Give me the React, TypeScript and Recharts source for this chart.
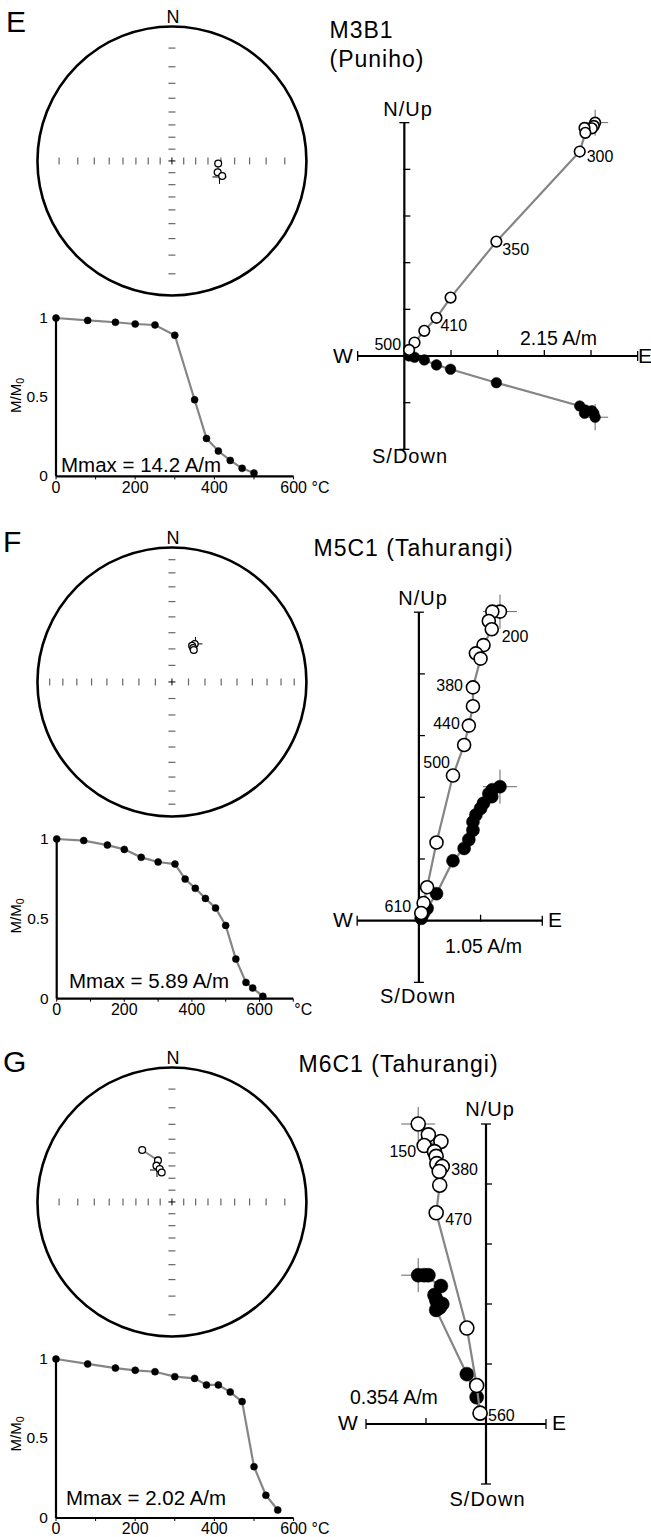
import React from 'react';
import { ScatterChart, Scatter, XAxis, YAxis, ReferenceDot, ReferenceLine, LineChart, Line } from 'recharts';

const FONT = '"Liberation Sans", Arial, Helvetica, sans-serif';
const GRAY = '#858585';

// ---------------- stereonet data (declination, inclination; open = upper hemisphere) ----------------
const stereoTickIncs = [10, 20, 30, 40, 50, 60, 70, 80];

const eStereoDec = [93.2, 103.9, 106.6];
const eStereoInc = [-52.0, -51.4, -47.4];
const eStereoMean = [108.6, -49.1];

const fStereoDec = [31.0, 29.1, 32.0, 34.3];
const fStereoInc = [-63.1, -64.8, -65.7, -66.5];
const fStereoMean = [31.7, -62.8];

const gStereoDec = [330.2, 341.4, 336.9, 339.6, 340.8];
const gStereoInc = [-42.0, -53.9, -57.3, -60.7, -63.9];
const gStereoMean = [334.9, -60.6];

// ---------------- demagnetisation (temperature °C, M/M0) ----------------
const eTemps = [0, 80, 150, 200, 250, 300, 350, 380, 410, 440, 470, 500];
const eMM0 = [1, 0.985, 0.973, 0.962, 0.956, 0.891, 0.484, 0.24, 0.16, 0.101, 0.051, 0.021];

const fTemps = [0, 80, 150, 200, 250, 300, 350, 380, 410, 440, 470, 500, 530, 560, 580, 610];
const fMM0 = [1, 0.99, 0.962, 0.935, 0.885, 0.856, 0.843, 0.749, 0.691, 0.628, 0.568, 0.459, 0.248, 0.102, 0.067, 0.015];

const gTemps = [0, 80, 150, 200, 250, 300, 350, 380, 410, 440, 470, 500, 530, 560];
const gMM0 = [1, 0.969, 0.943, 0.929, 0.92, 0.889, 0.878, 0.837, 0.837, 0.792, 0.732, 0.323, 0.143, 0.05];

// ---------------- Zijderveld components (A/m) ----------------
const eEast = [8.79, 8.73, 8.64, 8.3, 8.34, 8.08, 4.24, 2.13, 1.48, 0.92, 0.47, 0.22];
const eNorth = [-2.82, -2.64, -2.52, -2.64, -2.49, -2.3, -1.23, -0.61, -0.41, -0.18, -0.06, 0.0];
const eUp = [10.75, 10.6, 10.49, 10.51, 10.28, 9.42, 5.27, 2.69, 1.76, 1.16, 0.62, 0.28];

const fEast = [1.38, 1.25, 1.19, 1.24, 1.1, 0.97, 1.05, 0.92, 0.92, 0.85, 0.77, 0.58, 0.3, 0.14, 0.08, 0.04];
const fNorth = [2.28, 2.23, 2.16, 2.11, 2.0, 1.8, 1.91, 1.68, 1.54, 1.38, 1.23, 1.02, 0.46, 0.21, 0.13, 0.04];
const fUp = [5.26, 5.26, 5.1, 4.96, 4.69, 4.55, 4.46, 3.97, 3.65, 3.32, 2.99, 2.47, 1.33, 0.57, 0.3, 0.13];

const gEast = [-0.4, -0.34, -0.365, -0.266, -0.304, -0.294, -0.29, -0.258, -0.276, -0.273, -0.294, -0.113, -0.055, -0.035];
const gNorth = [0.878, 0.878, 0.878, 0.814, 0.761, 0.736, 0.722, 0.708, 0.697, 0.687, 0.673, 0.294, 0.158, 0.064];
const gUp = [1.77, 1.706, 1.643, 1.667, 1.607, 1.579, 1.536, 1.519, 1.49, 1.409, 1.246, 0.566, 0.227, 0.064];

// Zijderveld tick units (A/m per division) and axis tick indices
const eUnit = 2.15;
const fUnit = 1.05;
const gUnit = 0.354;
const eHTicks = [-1, 1, 2, 3, 4, 5];
const eVTicks = [-2, -1, 1, 2, 3, 4, 5];
const fHTicks = [-1, 1, 2];
const fVTicks = [-1, 1, 2, 3, 4, 5];
const gHTicks = [-2, -1, 1];
const gVTicks = [-1, 1, 2, 3, 4, 5];

// label placement (style only): temperature -> [dx, dy(center), anchor]
const eLabelPos: Record<number, [number, number, string]> = {
  300: [7, 5, 'start'], 350: [6, 8, 'start'], 410: [4, 7, 'start'], 500: [-8, -5.5, 'end'],
};
const fLabelPos: Record<number, [number, number, string]> = {
  200: [10, 7, 'start'], 380: [-10, -2.5, 'end'], 440: [-9, -2, 'end'], 500: [-3, -13, 'end'], 610: [-10, -7, 'end'],
};
const gLabelPos: Record<number, [number, number, string]> = {
  150: [-8, 6, 'end'], 380: [9, 3, 'start'], 470: [9, 6, 'start'], 560: [8, 2, 'start'],
};

// ---------------- helpers ----------------
type Proj = 'angle' | 'area';
const RAD = Math.PI / 180;
const projR = (inc: number, p: Proj) => {
  const h = ((90 - Math.abs(inc)) * RAD) / 2;
  return p === 'angle' ? Math.tan(h) : Math.SQRT2 * Math.sin(h);
};
const dirXY = (dec: number, inc: number, p: Proj) => {
  const r = projR(inc, p);
  return { x: r * Math.sin(dec * RAD), y: r * Math.cos(dec * RAD) };
};

const StereoTick = (props: any) => {
  const { cx, cy, payload } = props;
  if (payload.dir === 'ns')
    return <line x1={cx - 3.5} x2={cx + 3.5} y1={cy} y2={cy} stroke="#666" strokeWidth={1.2} />;
  return <line x1={cx} x2={cx} y1={cy - 3.5} y2={cy + 3.5} stroke="#666" strokeWidth={1.2} />;
};
const CenterPlus = (props: any) => {
  const { cx, cy } = props;
  return (
    <g stroke="#000" strokeWidth={1}>
      <line x1={cx - 3.5} x2={cx + 3.5} y1={cy} y2={cy} />
      <line x1={cx} x2={cx} y1={cy - 3.5} y2={cy + 3.5} />
    </g>
  );
};
const makeCross = (a: number, color: string) => (props: any) => {
  const { cx, cy } = props;
  return (
    <g stroke={color} strokeWidth={1}>
      <line x1={cx - a} x2={cx + a} y1={cy} y2={cy} />
      <line x1={cx} x2={cx} y1={cy - a} y2={cy + a} />
    </g>
  );
};
const makeOpen = (r: number, sw: number, labels?: Record<number, [number, number, string]>) => (props: any) => {
  const { cx, cy, payload } = props;
  const lab = labels && payload && payload.t !== undefined ? labels[payload.t] : undefined;
  return (
    <g>
      <circle cx={cx} cy={cy} r={r} fill="#fff" stroke="#000" strokeWidth={sw} />
      {lab && (
        <text x={cx + lab[0]} y={cy + lab[1] + 5.8} textAnchor={lab[2] as any} fontSize={16} fill="#000" fontFamily={FONT}>
          {payload.t}
        </text>
      )}
    </g>
  );
};
const makeSolid = (r: number) => (props: any) => {
  const { cx, cy } = props;
  return <circle cx={cx} cy={cy} r={r} fill="#000" stroke="#000" strokeWidth={0.5} />;
};
const ZTick = (props: any) => {
  const { cx, cy, payload } = props;
  if (payload.axis === 'h') {
    return payload.end ? (
      <line x1={cx} x2={cx} y1={cy - 5} y2={cy + 5} stroke="#000" strokeWidth={1.3} />
    ) : (
      <line x1={cx} x2={cx} y1={cy - 6} y2={cy + 1} stroke="#000" strokeWidth={1.3} />
    );
  }
  return payload.end ? (
    <line x1={cx - 5} x2={cx + 5} y1={cy} y2={cy} stroke="#000" strokeWidth={1.3} />
  ) : (
    <line x1={cx - 1} x2={cx + 6} y1={cy} y2={cy} stroke="#000" strokeWidth={1.3} />
  );
};

// ---------------- stereonet ----------------
function Stereonet(props: { cx: number; cy: number; R: number; proj: Proj; decs: number[]; incs: number[]; mean: number[] }) {
  const { cx, cy, R, proj, decs, incs, mean } = props;
  const pad = 1.1;
  const size = 2 * pad * R;
  const ticks = stereoTickIncs.flatMap((i) => {
    const r = projR(i, proj);
    return [
      { x: 0, y: r, dir: 'ns' },
      { x: 0, y: -r, dir: 'ns' },
      { x: r, y: 0, dir: 'ew' },
      { x: -r, y: 0, dir: 'ew' },
    ];
  });
  const pts = decs.map((d, i) => dirXY(d, incs[i], proj));
  const m = dirXY(mean[0], mean[1], proj);
  return (
    <div style={{ position: 'absolute', left: cx - pad * R, top: cy - pad * R }}>
      <ScatterChart width={size} height={size} margin={{ top: 0, right: 0, bottom: 0, left: 0 }}>
        <XAxis type="number" dataKey="x" domain={[-pad, pad]} hide />
        <YAxis type="number" dataKey="y" domain={[-pad, pad]} hide />
        <ReferenceDot x={0} y={0} r={R} fill="none" stroke="#000" strokeWidth={2.6} ifOverflow="visible" />
        <Scatter data={ticks} shape={StereoTick} isAnimationActive={false} />
        <Scatter data={[{ x: 0, y: 0 }]} shape={CenterPlus} isAnimationActive={false} />
        <Scatter data={[m]} shape={makeCross(7, '#000')} isAnimationActive={false} />
        <Scatter data={pts} shape={makeOpen(3.4, 1.3)} line={{ stroke: GRAY, strokeWidth: 1.8 }} isAnimationActive={false} />
      </ScatterChart>
    </div>
  );
}

// ---------------- demag curve ----------------
function Demag(props: {
  plotLeft: number; plotTop: number; plotW: number; plotH: number; xMax: number; xTicks: number[];
  xLabels: number[]; degAt: number; degDx: number; degAnchor: string; temps: number[]; mm0: number[];
}) {
  const { plotLeft, plotTop, plotW, plotH, xMax, xTicks, xLabels, degAt, degDx, degAnchor, temps, mm0 } = props;
  const data = temps.map((t, i) => ({ t, m: mm0[i] }));
  const yw = 40, mt = 10, mr = 45, xh = 28, mb = 4;
  const width = plotLeft + plotW + mr;
  const height = mt + plotH + xh + mb;
  const xTick = (p: any) => {
    const v = p.payload.value;
    return (
      <g>
        {xLabels.includes(v) && (
          <text x={p.x} y={p.y + 11.5} textAnchor="middle" fontSize={16} fill="#000" fontFamily={FONT}>
            {v}
          </text>
        )}
        {v === degAt && (
          <text x={p.x + degDx} y={p.y + 11.5} textAnchor={degAnchor as any} fontSize={16} fill="#000" fontFamily={FONT}>
            °C
          </text>
        )}
      </g>
    );
  };
  const yTick = (p: any) => (
    <text x={p.x} y={p.y + 5} textAnchor="end" fontSize={15.5} fill="#000" fontFamily={FONT}>
      {p.payload.value}
    </text>
  );
  return (
    <div style={{ position: 'absolute', left: 0, top: plotTop - mt }}>
      <LineChart width={width} height={height} data={data} margin={{ top: mt, right: mr, bottom: mb, left: plotLeft - yw }}>
        <XAxis
          type="number" dataKey="t" domain={[0, xMax]} ticks={xTicks} interval={0} height={xh}
          axisLine={{ stroke: '#000', strokeWidth: 2.2 }} tickLine={{ stroke: '#000', strokeWidth: 1 }} tickSize={3}
          tick={xTick}
        />
        <YAxis
          type="number" domain={[0, 1]} ticks={[0, 0.5, 1]} width={yw} interval={0}
          axisLine={{ stroke: '#000', strokeWidth: 2.2 }} tickLine={false} tickSize={4} tickMargin={4} tick={yTick}
        />
        <Line
          type="linear" dataKey="m" stroke={GRAY} strokeWidth={2.2}
          dot={{ r: 3.5, fill: '#000', stroke: '#000', strokeWidth: 0.5 }} isAnimationActive={false}
        />
      </LineChart>
    </div>
  );
}

// ---------------- Zijderveld ----------------
function Zij(props: {
  ox: number; oy: number; unitPx: number; unit: number; hTicks: number[]; vTicks: number[];
  temps: number[]; east: number[]; north: number[]; up: number[]; r: number; cross: number;
  labels: Record<number, [number, number, string]>;
}) {
  const { ox, oy, unitPx, unit, hTicks, vTicks, temps, east, north, up, r, cross, labels } = props;
  const hMin = Math.min(...hTicks), hMax = Math.max(...hTicks);
  const vMin = Math.min(...vTicks), vMax = Math.max(...vTicks);
  const x0 = hMin - 0.7, x1 = hMax + 0.7, y0 = vMin - 0.7, y1 = vMax + 0.7;
  const width = (x1 - x0) * unitPx;
  const height = (y1 - y0) * unitPx;
  const left = ox + x0 * unitPx;
  const top = oy - y1 * unitPx;
  const openPts = temps.map((t, i) => ({ t, x: east[i], y: up[i] }));
  const solidPts = temps.map((t, i) => ({ t, x: east[i], y: north[i] }));
  const tickPts = [
    ...hTicks.map((k) => ({ x: k * unit, y: 0, axis: 'h', end: k === hMin || k === hMax })),
    ...vTicks.map((k) => ({ x: 0, y: k * unit, axis: 'v', end: k === vMin || k === vMax })),
  ];
  return (
    <div style={{ position: 'absolute', left, top }}>
      <ScatterChart width={width} height={height} margin={{ top: 0, right: 0, bottom: 0, left: 0 }}>
        <XAxis type="number" dataKey="x" domain={[x0 * unit, x1 * unit]} hide />
        <YAxis type="number" dataKey="y" domain={[y0 * unit, y1 * unit]} hide />
        <ReferenceLine segment={[{ x: hMin * unit, y: 0 }, { x: hMax * unit, y: 0 }]} stroke="#000" strokeWidth={2.2} />
        <ReferenceLine segment={[{ x: 0, y: vMin * unit }, { x: 0, y: vMax * unit }]} stroke="#000" strokeWidth={2.2} />
        <Scatter data={tickPts} shape={ZTick} isAnimationActive={false} />
        <Scatter data={[openPts[0]]} shape={makeCross(cross, '#666')} isAnimationActive={false} />
        <Scatter data={[solidPts[0]]} shape={makeCross(cross, '#666')} isAnimationActive={false} />
        <Scatter data={solidPts} shape={makeSolid(r)} line={{ stroke: GRAY, strokeWidth: 2.2 }} isAnimationActive={false} />
        <Scatter data={openPts} shape={makeOpen(r, 1.6, labels)} line={{ stroke: GRAY, strokeWidth: 2.2 }} isAnimationActive={false} />
      </ScatterChart>
    </div>
  );
}

const T = (p: { x: number; y: number; s: number; a?: string; ls?: number; children: React.ReactNode }) => (
  <text x={p.x} y={p.y} fontSize={p.s} textAnchor={(p.a || 'start') as any} letterSpacing={p.ls || 0} fill="#000" fontFamily={FONT}>
    {p.children}
  </text>
);

const YLab = (p: { x: number; y: number }) => (
  <text transform={`translate(${p.x},${p.y}) rotate(-90)`} textAnchor="middle" fontSize={15} fill="#000" fontFamily={FONT}>
    M/M<tspan fontSize={10.5} dy={3}>0</tspan>
  </text>
);

export default function App() {
  const ticks600 = [0, 100, 200, 300, 400, 500, 600];
  const ticks700 = [0, 100, 200, 300, 400, 500, 600, 700];
  const labs = [0, 200, 400, 600];
  return (
    <div style={{ position: 'absolute', left: 0, top: 0, width: 651, height: 1537, background: '#fff', fontFamily: FONT, overflow: 'hidden' }}>
      {/* Panel E */}
      <Stereonet cx={171.5} cy={160.7} R={134.5} proj="angle" decs={eStereoDec} incs={eStereoInc} mean={eStereoMean} />
      <Demag plotLeft={56} plotTop={318.3} plotW={237.6} plotH={158.4} xMax={600} xTicks={ticks600} xLabels={labs}
        degAt={600} degDx={18} degAnchor="start" temps={eTemps} mm0={eMM0} />
      <Zij ox={404} oy={356} unitPx={46.67} unit={eUnit} hTicks={eHTicks} vTicks={eVTicks}
        temps={eTemps} east={eEast} north={eNorth} up={eUp} r={5.3} cross={13} labels={eLabelPos} />

      {/* Panel F */}
      <Stereonet cx={171.5} cy={682} R={134.5} proj="area" decs={fStereoDec} incs={fStereoInc} mean={fStereoMean} />
      <Demag plotLeft={56.7} plotTop={839.3} plotW={236.6} plotH={159.7} xMax={700} xTicks={ticks700} xLabels={labs}
        degAt={700} degDx={10} degAnchor="middle" temps={fTemps} mm0={fMM0} />
      <Zij ox={419.3} oy={920.7} unitPx={61.7} unit={fUnit} hTicks={fHTicks} vTicks={fVTicks}
        temps={fTemps} east={fEast} north={fNorth} up={fUp} r={6.5} cross={17} labels={fLabelPos} />

      {/* Panel G */}
      <Stereonet cx={171.5} cy={1202} R={134.5} proj="angle" decs={gStereoDec} incs={gStereoInc} mean={gStereoMean} />
      <Demag plotLeft={56} plotTop={1359.3} plotW={237.6} plotH={159} xMax={600} xTicks={ticks600} xLabels={labs}
        degAt={600} degDx={18} degAnchor="start" temps={gTemps} mm0={gMM0} />
      <Zij ox={486} oy={1424} unitPx={60} unit={gUnit} hTicks={gHTicks} vTicks={gVTicks}
        temps={gTemps} east={gEast} north={gNorth} up={gUp} r={7} cross={17} labels={gLabelPos} />

      <svg width={651} height={1537} style={{ position: 'absolute', left: 0, top: 0, pointerEvents: 'none' }}>
        {/* panel letters */}
        <T x={6} y={31.7} s={30}>E</T>
        <T x={3} y={551.7} s={30}>F</T>
        <T x={3} y={1071.7} s={30}>G</T>
        {/* stereonet N */}
        <T x={173} y={23.3} s={18} a="middle">N</T>
        <T x={173} y={544} s={18} a="middle">N</T>
        <T x={173} y={1064} s={18} a="middle">N</T>
        {/* titles */}
        <T x={329.5} y={38.3} s={23} ls={1}>M3B1</T>
        <T x={329.5} y={66.5} s={23} ls={1}>(Puniho)</T>
        <T x={313.5} y={556} s={23} ls={1}>M5C1 (Tahurangi)</T>
        <T x={298.5} y={1072} s={23} ls={1}>M6C1 (Tahurangi)</T>
        {/* demag labels */}
        <YLab x={20.5} y={395.5} />
        <YLab x={20.5} y={916} />
        <YLab x={20.5} y={1434} />
        <T x={61} y={471.7} s={20.5}>Mmax = 14.2 A/m</T>
        <T x={69} y={988} s={20.5}>Mmax = 5.89 A/m</T>
        <T x={66} y={1505} s={20.5}>Mmax = 2.02 A/m</T>
        {/* Zijderveld E */}
        <T x={408} y={115.5} s={20} a="middle" ls={1}>N/Up</T>
        <T x={333} y={363} s={21}>W</T>
        <T x={638} y={363} s={21}>E</T>
        <T x={410} y={463} s={20} a="middle" ls={1}>S/Down</T>
        <T x={520} y={345} s={19.5}>2.15 A/m</T>
        {/* Zijderveld F */}
        <T x={423} y={604.5} s={20} a="middle" ls={1}>N/Up</T>
        <T x={333} y={926.5} s={21}>W</T>
        <T x={548} y={926.5} s={21}>E</T>
        <T x={418} y={1003} s={20} a="middle" ls={1}>S/Down</T>
        <T x={445} y={953} s={19.5}>1.05 A/m</T>
        {/* Zijderveld G */}
        <T x={490} y={1116} s={20} a="middle" ls={1}>N/Up</T>
        <T x={338} y={1430} s={21}>W</T>
        <T x={552} y={1430} s={21}>E</T>
        <T x={487.5} y={1506} s={20} a="middle" ls={1}>S/Down</T>
        <T x={350} y={1404} s={19.5}>0.354 A/m</T>
      </svg>
    </div>
  );
}
